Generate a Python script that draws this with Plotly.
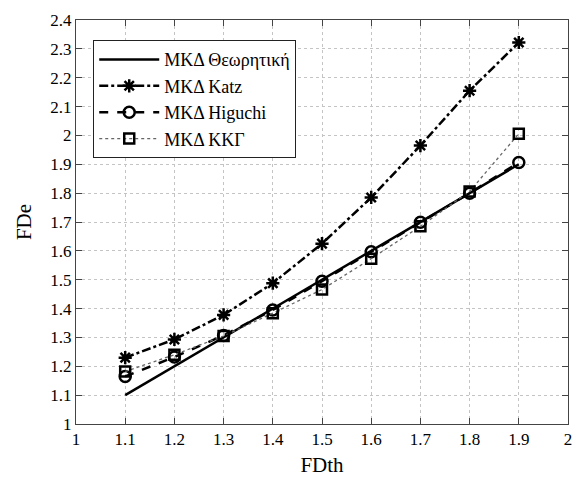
import plotly.graph_objects as go

fd_th = [1.1, 1.2, 1.3, 1.4, 1.5, 1.6, 1.7, 1.8, 1.9]
fd_theory = [1.1, 1.2, 1.3, 1.4, 1.5, 1.6, 1.7, 1.8, 1.9]
fd_katz = [1.23, 1.293, 1.378, 1.488, 1.625, 1.785, 1.965, 2.155, 2.322]
fd_higuchi = [1.165, 1.232, 1.307, 1.395, 1.495, 1.597, 1.699, 1.800, 1.906]
fd_kkg = [1.182, 1.240, 1.305, 1.384, 1.466, 1.573, 1.685, 1.806, 2.006]

names = ["ΜΚΔ Θεωρητική", "ΜΚΔ Katz", "ΜΚΔ Higuchi", "ΜΚΔ ΚΚΓ"]

x_ticks = [1, 1.1, 1.2, 1.3, 1.4, 1.5, 1.6, 1.7, 1.8, 1.9, 2]
x_labels = ["1", "1.1", "1.2", "1.3", "1.4", "1.5", "1.6", "1.7", "1.8", "1.9", "2"]
y_ticks = [1, 1.1, 1.2, 1.3, 1.4, 1.5, 1.6, 1.7, 1.8, 1.9, 2, 2.1, 2.2, 2.3, 2.4]
y_labels = ["1", "1.1", "1.2", "1.3", "1.4", "1.5", "1.6", "1.7", "1.8", "1.9",
            "2", "2.1", "2.2", "2.3", "2.4"]

FONT = "Liberation Serif"

fig = go.Figure()
fig.add_trace(go.Scatter(x=fd_th, y=fd_theory, name=names[0], mode="lines",
                         line=dict(color="black", width=2.5)))
fig.add_trace(go.Scatter(x=fd_th, y=fd_katz, name=names[1], mode="lines+markers",
                         line=dict(color="black", width=2.5, dash="dashdot"),
                         marker=dict(symbol="asterisk-open", size=11, color="black",
                                     line=dict(color="black", width=2.5))))
fig.add_trace(go.Scatter(x=fd_th, y=fd_higuchi, name=names[2], mode="lines+markers",
                         line=dict(color="black", width=2.5, dash="dash"),
                         marker=dict(symbol="circle-open", size=11, color="black",
                                     line=dict(color="black", width=2.5))))
fig.add_trace(go.Scatter(x=fd_th, y=fd_kkg, name=names[3], mode="lines+markers",
                         line=dict(color="#666666", width=1.3, dash="dot"),
                         marker=dict(symbol="square-open", size=10, color="black",
                                     line=dict(color="black", width=2.5))))

axis_common = dict(
    showline=True, linecolor="#444444", linewidth=1, mirror="ticks",
    ticks="inside", ticklen=6, tickcolor="#444444",
    showgrid=True, gridcolor="#c4c4c4", griddash="dot", gridwidth=1,
    zeroline=False, tickfont=dict(family=FONT, size=17, color="black"),
)

fig.update_xaxes(range=[1, 2], tickvals=x_ticks, ticktext=x_labels,
                 title=dict(text="FDth", font=dict(family=FONT, size=21, color="black"),
                            standoff=8),
                 **axis_common)
fig.update_yaxes(range=[1, 2.4], tickvals=y_ticks, ticktext=y_labels,
                 title=dict(text="FDe", font=dict(family=FONT, size=21, color="black"),
                            standoff=12),
                 **axis_common)

fig.update_layout(
    width=579, height=479,
    margin=dict(l=76, r=7, t=20, b=54),
    paper_bgcolor="white", plot_bgcolor="white",
    font=dict(family=FONT, color="black"),
    showlegend=True,
    legend=dict(x=0.035, y=0.95, xanchor="left", yanchor="top",
                bgcolor="white", bordercolor="#222222", borderwidth=1,
                font=dict(family=FONT, size=18, color="black"),
                tracegroupgap=0, itemwidth=60),
)

fig.write_html("out.html")
